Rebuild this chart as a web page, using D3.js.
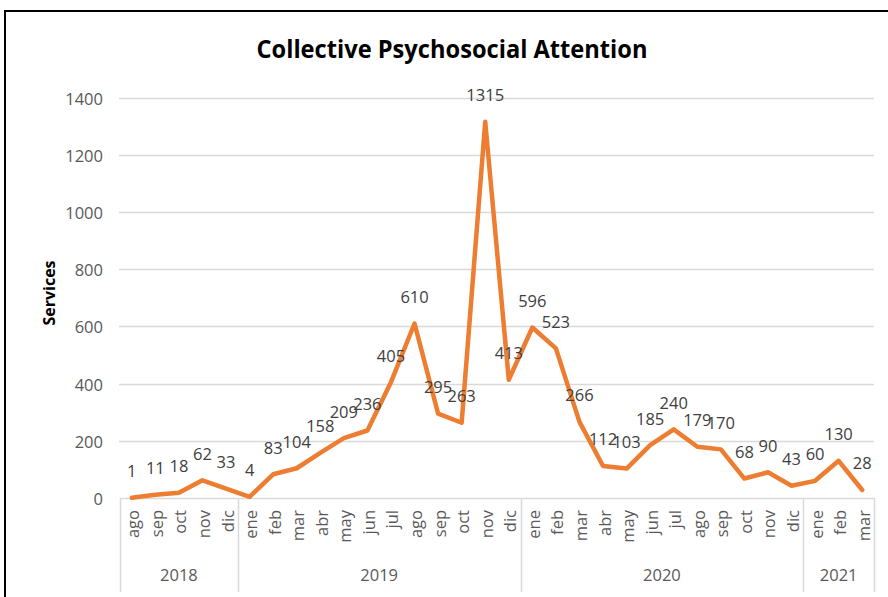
<!DOCTYPE html>
<html>
<head>
<meta charset="utf-8">
<script src="https://cdn.jsdelivr.net/npm/d3@7"></script>
<style>
  html, body { margin: 0; padding: 0; background: #fff; }
  svg { display: block; font-family: "Open Sans", "Noto Sans", sans-serif; }
</style>
</head>
<body>
<svg id="chart" width="888" height="597"></svg>
<script>
// Monthly services, Aug 2018 – Mar 2021
const monthLabels = [
  "ago", "sep", "oct", "nov", "dic",
  "ene", "feb", "mar", "abr", "may", "jun", "jul", "ago", "sep", "oct", "nov", "dic",
  "ene", "feb", "mar", "abr", "may", "jun", "jul", "ago", "sep", "oct", "nov", "dic",
  "ene", "feb", "mar"
];
const services = [
  1, 11, 18, 62, 33,
  4, 83, 104, 158, 209, 236, 405, 610, 295, 263, 1315, 413,
  596, 523, 266, 112, 103, 185, 240, 179, 170, 68, 90, 43,
  60, 130, 28
];
const years = ["2018", "2019", "2020", "2021"];
const monthsPerYear = [5, 12, 12, 3];
const yTicks = [0, 200, 400, 600, 800, 1000, 1200, 1400];

const svg = d3.select("#chart");
const W = 888, H = 597;
const plotLeft = 120, plotRight = 874, plotTop = 97.5, plotBottom = 498;

// outer frame of the chart area
svg.append("rect")
  .attr("x", 5).attr("y", 11)
  .attr("width", W + 20).attr("height", H + 20)
  .attr("fill", "#fff").attr("stroke", "#000").attr("stroke-width", 2);

const x = d3.scaleBand().domain(d3.range(services.length)).range([plotLeft, plotRight]);
const cx = i => x(i) + x.bandwidth() / 2;
const y = d3.scaleLinear().domain([0, 1400]).range([plotBottom, plotTop]);

// title
svg.append("text")
  .attr("x", 452).attr("y", 58)
  .attr("text-anchor", "middle")
  .attr("font-size", 24.5).attr("font-weight", 700)
  .attr("textLength", 391).attr("lengthAdjust", "spacingAndGlyphs")
  .attr("fill", "#000")
  .text("Collective Psychosocial Attention");

// horizontal gridlines
svg.append("g")
  .selectAll("line")
  .data(yTicks.filter(d => d > 0))
  .join("line")
  .attr("x1", plotLeft - 1).attr("x2", plotRight)
  .attr("y1", d => Math.round(y(d)) + 0.5).attr("y2", d => Math.round(y(d)) + 0.5)
  .attr("stroke", "#d9d9d9").attr("stroke-width", 1.5);

// y axis labels
const yAxis = svg.append("g")
  .attr("transform", `translate(${plotLeft - 17},0)`)
  .call(d3.axisLeft(y).tickValues(yTicks).tickFormat(d3.format("d")).tickSize(0).tickPadding(0));
yAxis.select(".domain").remove();
yAxis.selectAll("text")
  .attr("font-family", "'Open Sans', sans-serif")
  .attr("font-size", 16.5).attr("fill", "#595959")
  .attr("dy", null).attr("dominant-baseline", "central");

// y axis title
svg.append("text")
  .attr("transform", "translate(49,293) rotate(-90)")
  .attr("text-anchor", "middle").attr("dominant-baseline", "central")
  .attr("font-size", 16).attr("font-weight", 700).attr("fill", "#000")
  .text("Services");

// category axis: baseline, month labels, year groups
svg.append("line")
  .attr("x1", plotLeft).attr("x2", plotRight)
  .attr("y1", plotBottom + 0.5).attr("y2", plotBottom + 0.5)
  .attr("stroke", "#d9d9d9").attr("stroke-width", 1.5);

const xAxis = svg.append("g")
  .attr("transform", `translate(0,${plotBottom})`)
  .call(d3.axisBottom(x).tickSize(0).tickFormat(i => monthLabels[i]));
xAxis.select(".domain").remove();
xAxis.selectAll("text")
  .attr("font-family", "'Open Sans', sans-serif")
  .attr("font-size", 16.5).attr("fill", "#595959")
  .attr("text-anchor", "end").attr("dominant-baseline", "central")
  .attr("dy", null)
  .attr("y", 0)
  .attr("transform", "translate(1,12) rotate(-90)");

const bounds = [0];
monthsPerYear.forEach(n => bounds.push(bounds[bounds.length - 1] + n));
const edgeX = k => k < services.length ? x(k) : plotRight;

svg.append("g")
  .selectAll("line")
  .data(bounds)
  .join("line")
  .attr("x1", k => Math.round(edgeX(k)) + 0.5).attr("x2", k => Math.round(edgeX(k)) + 0.5)
  .attr("y1", plotBottom).attr("y2", 592)
  .attr("stroke", "#d9d9d9").attr("stroke-width", 1.5);

svg.append("g")
  .selectAll("text")
  .data(years)
  .join("text")
  .attr("x", (d, i) => (edgeX(bounds[i]) + edgeX(bounds[i + 1])) / 2)
  .attr("y", 574)
  .attr("text-anchor", "middle").attr("dominant-baseline", "central")
  .attr("font-size", 16.5).attr("fill", "#595959")
  .text(d => d);

// series line
const line = d3.line().x((d, i) => cx(i)).y(d => y(d));
svg.append("path")
  .datum(services)
  .attr("d", line)
  .attr("fill", "none")
  .attr("stroke", "#ED7D31")
  .attr("stroke-width", 4.5)
  .attr("stroke-linejoin", "round")
  .attr("stroke-linecap", "round");

// value labels above each point
svg.append("g")
  .selectAll("text")
  .data(services)
  .join("text")
  .attr("x", (d, i) => cx(i))
  .attr("y", d => y(d) - 27)
  .attr("text-anchor", "middle").attr("dominant-baseline", "central")
  .attr("font-size", 16.5).attr("fill", "#404040")
  .text(d => d);
</script>
</body>
</html>
